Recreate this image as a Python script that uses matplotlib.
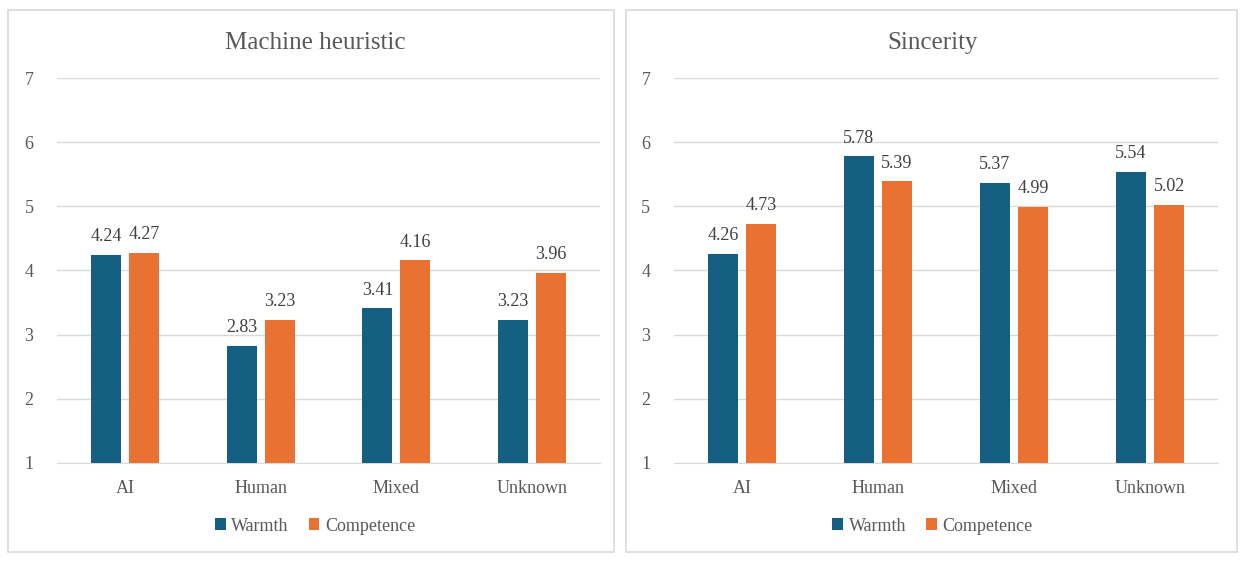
import numpy as np
import matplotlib.pyplot as plt
from matplotlib.patches import Rectangle

categories = ['AI', 'Human', 'Mixed', 'Unknown']
series_names = ['Warmth', 'Competence']

heuristic_warmth = [4.24, 2.83, 3.41, 3.23]
heuristic_competence = [4.27, 3.23, 4.16, 3.96]
sincerity_warmth = [4.26, 5.78, 5.37, 5.54]
sincerity_competence = [4.73, 5.39, 4.99, 5.02]

panel_titles = ['Machine heuristic', 'Sincerity']
y_ticks = [1, 2, 3, 4, 5, 6, 7]

plt.rcParams['font.family'] = ['Liberation Serif', 'DejaVu Serif']
TEXT = '#595959'
GRID = '#D9D9D9'
COLORS = ['#156082', '#E97132']

fig = plt.figure(figsize=(12.43, 5.62), dpi=100)

# panel frames
frames = [(0.0064, 0.4875), (0.5036, 0.4916)]
for x0, w in frames:
    fig.add_artist(Rectangle((x0, 0.0178), w, 0.9644, transform=fig.transFigure,
                             fill=False, edgecolor=GRID, linewidth=1.2))

axes_pos = [(0.0459, 0.1762, 0.4368, 0.685), (0.5422, 0.1762, 0.4377, 0.685)]
centers = [0.2534, 0.7502]
data = [(heuristic_warmth, heuristic_competence),
        (sincerity_warmth, sincerity_competence)]

x = np.arange(len(categories))
bw = 0.22
gap = 0.06

for pos, cx, title, (warm, comp) in zip(axes_pos, centers, panel_titles, data):
    ax = fig.add_axes(pos)
    handles = []
    for k, (vals, name) in enumerate(zip((warm, comp), series_names)):
        off = (k - 0.5) * (bw + gap)
        bars = ax.bar(x + off, vals, width=bw, color=COLORS[k], label=name, zorder=3)
        handles.append(bars)
        for xi, v in zip(x + off, vals):
            ax.annotate(f'{v:.2f}', (xi, v), xytext=(0, 7), textcoords='offset points',
                        ha='center', va='bottom', fontsize=13, color='#404040')
    ax.set_xlim(-0.5, len(categories) - 0.5)
    ax.set_ylim(1, 7)
    ax.set_yticks(y_ticks)
    ax.set_xticks(x)
    ax.set_xticklabels(categories)
    ax.grid(axis='y', color=GRID, linewidth=1.0, zorder=0)
    for s in ['top', 'right', 'left']:
        ax.spines[s].set_visible(False)
    ax.spines['bottom'].set_color(GRID)
    ax.tick_params(axis='both', length=0, colors=TEXT, labelsize=13)
    ax.tick_params(axis='y', pad=17)
    ax.tick_params(axis='x', pad=12)
    fig.text(cx, 0.924, title, fontsize=18, color=TEXT, ha='center', va='center')
    fig.legend(handles=handles, loc='center', bbox_to_anchor=(cx, 0.064),
               ncol=2, frameon=False, fontsize=13, labelcolor=TEXT,
               handlelength=0.6, handleheight=0.6, handletextpad=0.3,
               columnspacing=1.1)

fig.savefig('out.png', dpi=100, facecolor='white')
